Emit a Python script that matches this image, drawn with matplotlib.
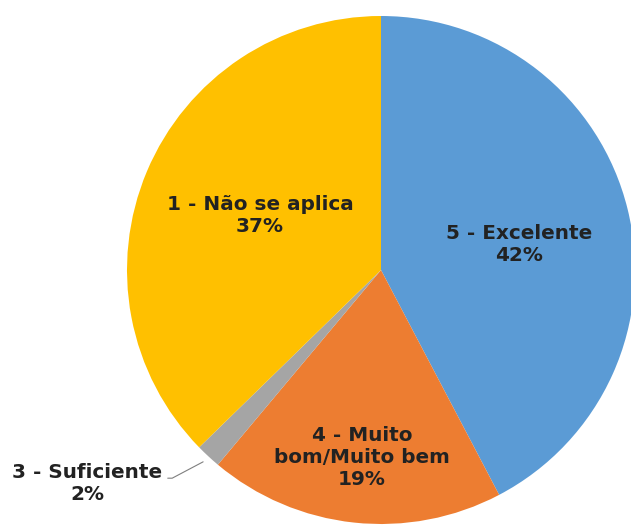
import numpy as np
import matplotlib
matplotlib.use('Agg')
import matplotlib.pyplot as plt

# slices, clockwise from the top
labels = ['5 - Excelente', '4 - Muito\nbom/Muito bem', '3 - Suficiente', '1 - Não se aplica']
values = [42.3, 18.8, 1.6, 37.3]
colors = ['#5B9BD5', '#ED7D31', '#A5A5A5', '#FFC000']

# label centres in pie units (radius = 1)
label_pos = [(0.545, 0.102), (-0.075, -0.740), (-1.157, -0.839), (-0.476, 0.213)]

fig = plt.figure(figsize=(6.31, 5.31), dpi=100)
W, H = 631, 531
cx, cy, R = 381, 261, 254   # pixels, cy from bottom
ax = fig.add_axes([(cx - R) / W, (cy - R) / H, 2 * R / W, 2 * R / H])

wedges, _ = ax.pie(values, colors=colors, startangle=90, counterclock=False,
                   wedgeprops=dict(linewidth=0))
ax.set_xlim(-1, 1)
ax.set_ylim(-1, 1)
ax.set_aspect('equal')

font = dict(family='DejaVu Sans', weight='bold', size=14.4, color='#222222')

for i, w in enumerate(wedges):
    txt = labels[i] + '\n' + '%.0f%%' % values[i]
    x, y = label_pos[i]
    if values[i] < 5:
        mid = np.deg2rad((w.theta1 + w.theta2) / 2)
        ax.annotate(txt, xy=(1.03 * np.cos(mid), 1.03 * np.sin(mid)), xytext=(x, y),
                    ha='center', va='center', annotation_clip=False,
                    arrowprops=dict(arrowstyle='-', color='#7f7f7f', lw=0.8,
                                    relpos=(1.0, 0.62), shrinkA=2, shrinkB=0,
                                    connectionstyle='arc,angleA=0,armA=10,angleB=0,armB=0,rad=0'),
                    **font)
    else:
        ax.text(x, y, txt, ha='center', va='center', **font)

plt.savefig('out.png', dpi=100)
